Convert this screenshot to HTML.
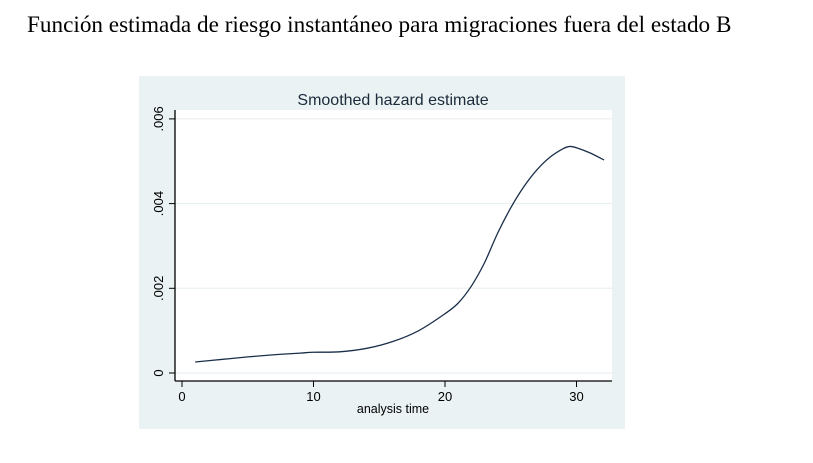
<!DOCTYPE html>
<html><head><meta charset="utf-8"><style>
body{margin:0;width:813px;height:463px;background:#fff;overflow:hidden}
#title{position:absolute;left:27px;top:12px;font:23.2px "Liberation Serif",serif;color:#000;white-space:nowrap}
svg{position:absolute;left:0;top:0}
</style></head><body>
<div id="title">Función estimada de riesgo instantáneo para migraciones fuera del estado B</div>
<svg id="chart" width="813" height="463"></svg>
<script>
const times=[1,3,5,7,9,10,12,14,16,18,20,21,22,23,24,25,26,27,28,29,29.5,30,31,32.1];
const hazard=[.00026,.00032,.00038,.00043,.00047,.00049,.00050,.00058,.00074,.00100,.00140,.00165,.00205,.00260,.00330,.00390,.00440,.00480,.00510,.00530,.00535,.00532,.00520,.00503];
const xTicks=[0,10,20,30];
const yTicks=[0,.002,.004,.006];
const yTickLabels=["0",".002",".004",".006"];
const NS="http://www.w3.org/2000/svg";
const svg=document.getElementById('chart');
const X=v=>182+v*13.15, Y=v=>373-v*42350;
function mk(t,a,p){const e=document.createElementNS(NS,t);for(const k in a)e.setAttribute(k,a[k]);(p||svg).appendChild(e);return e;}
const bg=mk('rect',{x:139,y:76,width:486,height:353,fill:'#eaf2f3'});


const plot=mk('rect',{x:175,y:110,width:437,height:271,fill:'#fff'});


const t=mk('text',{x:393,y:105,'text-anchor':'middle','font-family':'Liberation Sans,sans-serif','font-size':16,fill:'#1a2a3a'});
t.textContent='Smoothed hazard estimate';


yTicks.forEach((v,i)=>{
 const g=mk('line',{x1:175,x2:612,y1:Y(v),y2:Y(v),stroke:'#e6eef0','stroke-width':1});
 
 
 mk('line',{x1:169,x2:175,y1:Y(v),y2:Y(v),stroke:'#000'});
 const l=mk('text',{transform:`translate(163,${Y(v)}) rotate(-90)`,'text-anchor':'middle','font-family':'Liberation Sans,sans-serif','font-size':13,fill:'#000'});
 l.textContent=yTickLabels[i];
 
 
});
xTicks.forEach(v=>{
 mk('line',{x1:X(v),x2:X(v),y1:381,y2:387,stroke:'#000'});
 const l=mk('text',{x:X(v),y:401,'text-anchor':'middle','font-family':'Liberation Sans,sans-serif','font-size':13,fill:'#000'});
 l.textContent=v;
 
 
});
mk('line',{x1:175,x2:175,y1:110,y2:381,stroke:'#000','stroke-width':1.3});
mk('line',{x1:175,x2:612,y1:381,y2:381,stroke:'#000','stroke-width':1.3});
const xt=mk('text',{x:393,y:413,'text-anchor':'middle','font-family':'Liberation Sans,sans-serif','font-size':12.5,fill:'#000'});
xt.textContent='analysis time';


const pts=times.map((v,i)=>[X(v),Y(hazard[i])]);
let d=`M${pts[0][0]},${pts[0][1]}`;
for(let i=0;i<pts.length-1;i++){const p0=pts[i-1]||pts[i],p1=pts[i],p2=pts[i+1],p3=pts[i+2]||p2;
 d+=` C${p1[0]+(p2[0]-p0[0])/6},${p1[1]+(p2[1]-p0[1])/6} ${p2[0]-(p3[0]-p1[0])/6},${p2[1]-(p3[1]-p1[1])/6} ${p2[0]},${p2[1]}`;}
const line=mk('path',{d:d,fill:'none',stroke:'#1a2f4a','stroke-width':1.3});


</script>
</body></html>
